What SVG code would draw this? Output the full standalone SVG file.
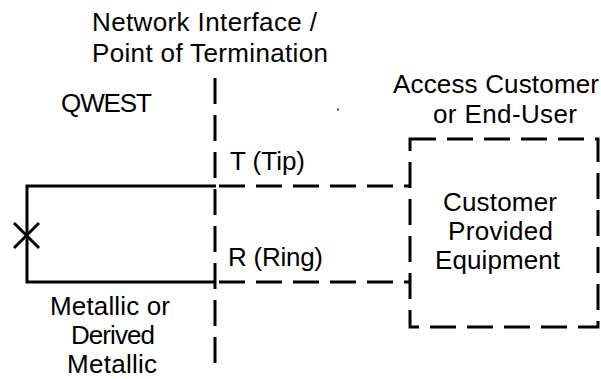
<svg xmlns="http://www.w3.org/2000/svg" width="601" height="379" viewBox="0 0 601 379">
<style>
text{font-family:"Liberation Sans",Arial,sans-serif;font-size:26px;fill:#000}
.solid{stroke:#000;stroke-width:3;fill:none}
.dash{stroke:#000;stroke-width:3;fill:none;stroke-dasharray:26 11}
</style>
<rect width="601" height="379" fill="#fff"/>
<g id="labels">
<text x="92" y="31" textLength="225" lengthAdjust="spacing">Network Interface /</text>
<text x="92" y="62" textLength="236" lengthAdjust="spacing">Point of Termination</text>
<text x="61" y="112" textLength="91" lengthAdjust="spacing">QWEST</text>
<text x="393" y="93" textLength="206" lengthAdjust="spacing">Access Customer</text>
<text x="433" y="123" textLength="144" lengthAdjust="spacing">or End-User</text>
<text x="230" y="170" textLength="75" lengthAdjust="spacing">T (Tip)</text>
<text x="228" y="266" textLength="95" lengthAdjust="spacing">R (Ring)</text>
<text x="50" y="315" textLength="120" lengthAdjust="spacing">Metallic or</text>
<text x="71" y="344" textLength="84" lengthAdjust="spacing">Derived</text>
<text x="67" y="373" textLength="90" lengthAdjust="spacing">Metallic</text>
</g>
<g id="qwest-loop">
<path class="solid" d="M216,186 H27 V282 H216"/>
<path class="solid" d="M14,223 L39,248 M39,223 L14,248"/>
</g>
<g id="cpe">
<rect class="dash" x="410" y="139" width="188" height="188"/>
<text x="443" y="211" textLength="114" lengthAdjust="spacing">Customer</text>
<text x="448" y="240" textLength="105" lengthAdjust="spacing">Provided</text>
<text x="435" y="269" textLength="125" lengthAdjust="spacing">Equipment</text>
</g>
<g id="connectors">
<line class="dash" x1="215" y1="78" x2="215" y2="367"/>
<line class="dash" x1="219" y1="186" x2="410" y2="186"/>
<line class="dash" x1="219" y1="282" x2="410" y2="282"/>
<line x1="338" y1="108" x2="338" y2="111" stroke="#000" stroke-width="1"/>
</g>
</svg>
